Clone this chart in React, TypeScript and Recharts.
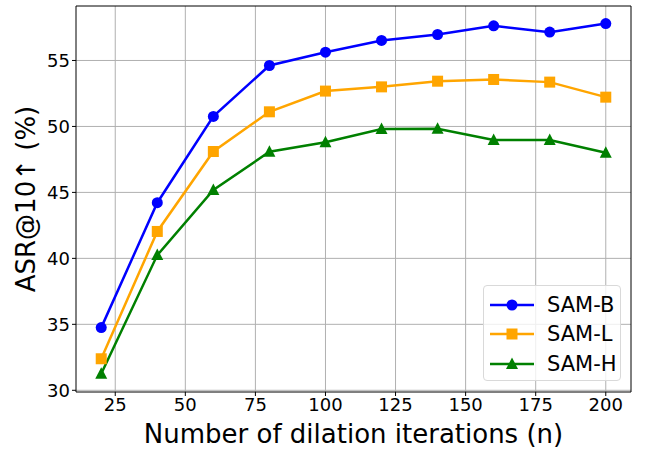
import { LineChart, Line, XAxis, YAxis, CartesianGrid, ReferenceLine, Legend, Label } from 'recharts'

const iterations = [20, 40, 60, 80, 100, 120, 140, 160, 180, 200]
const samB = [34.75, 44.22, 50.76, 54.62, 55.63, 56.52, 56.97, 57.63, 57.15, 57.8]
const samL = [32.39, 42.04, 48.1, 51.11, 52.68, 53.0, 53.43, 53.56, 53.36, 52.22]
const samH = [31.26, 40.25, 45.18, 48.08, 48.8, 49.8, 49.82, 48.97, 48.97, 48.0]

const xTicks = [25, 50, 75, 100, 125, 150, 175, 200]
const yTicks = [30, 35, 40, 45, 50, 55]

const data = iterations.map((n, i) => ({ n, b: samB[i], l: samL[i], h: samH[i] }))

const font = '"DejaVu Sans", sans-serif'

const CircleDot = (p: any) => (
	<circle key={`c-${p.index}`} cx={p.cx} cy={p.cy} r={5.5} fill='#0000ff' />
)
const SquareDot = (p: any) => (
	<rect key={`s-${p.index}`} x={p.cx - 5.5} y={p.cy - 5.5} width={11} height={11} fill='#ffa500' />
)
const TriangleDot = (p: any) => (
	<polygon
		key={`t-${p.index}`}
		points={`${p.cx},${p.cy - 6.5} ${p.cx - 6},${p.cy + 5} ${p.cx + 6},${p.cy + 5}`}
		fill='#008000'
	/>
)

const legendItems = [
	{ name: 'SAM-B', color: '#0000ff', shape: 'circle' },
	{ name: 'SAM-L', color: '#ffa500', shape: 'square' },
	{ name: 'SAM-H', color: '#008000', shape: 'triangle' },
]

function LegendBox() {
	return (
		<div
			style={{
				width: 138,
				height: 96,
				border: '1px solid #d9d9d9',
				borderRadius: 4,
				background: 'rgba(255,255,255,0.8)',
				boxSizing: 'border-box',
				paddingTop: 4,
			}}
		>
			{legendItems.map((it) => (
				<div key={it.name} style={{ display: 'flex', alignItems: 'center', height: 29.5 }}>
					<svg width={60} height={20} style={{ flex: 'none' }}>
						<line x1={6} y1={10} x2={50} y2={10} stroke={it.color} strokeWidth={2.5} />
						{it.shape === 'circle' && <circle cx={28} cy={10} r={5.5} fill={it.color} />}
						{it.shape === 'square' && <rect x={22.5} y={4.5} width={11} height={11} fill={it.color} />}
						{it.shape === 'triangle' && <polygon points='28,3.5 22,15 34,15' fill={it.color} />}
					</svg>
					<span style={{ fontFamily: font, fontSize: 21, color: '#000', marginLeft: 3 }}>{it.name}</span>
				</div>
			))}
		</div>
	)
}

export default function App() {
	return (
		<div style={{ position: 'absolute', left: 0, top: 0, background: '#fff' }}>
			<LineChart width={649} height={451} data={data} margin={{ top: 6, right: 18, left: 0, bottom: 0 }}>
				<CartesianGrid stroke='#b0b0b0' strokeWidth={1} verticalValues={xTicks} horizontalValues={yTicks} />
				<XAxis
					dataKey='n'
					type='number'
					domain={[11, 209]}
					ticks={xTicks}
					height={59}
					stroke='#000'
					tickSize={4}
					tick={{ fill: '#000', fontSize: 18, fontFamily: font }}
					tickMargin={2}
				>
					<Label
						value='Number of dilation iterations (n)'
						position='insideBottom'
						offset={8}
						style={{ fill: '#000', fontSize: 26, fontFamily: font }}
					/>
				</XAxis>
				<YAxis
					type='number'
					domain={[29.87, 59.13]}
					ticks={yTicks}
					width={76}
					stroke='#000'
					tickSize={4}
					tick={{ fill: '#000', fontSize: 18, fontFamily: font }}
					tickMargin={2}
				>
					<Label
						value='ASR@10↑ (%)'
						angle={-90}
						position='insideLeft'
						offset={26}
						style={{ fill: '#000', fontSize: 26, fontFamily: font, textAnchor: 'middle' }}
					/>
				</YAxis>
				<ReferenceLine y={59.13} stroke='#000' strokeWidth={1} />
				<ReferenceLine x={209} stroke='#000' strokeWidth={1} />
				<Line dataKey='b' name='SAM-B' stroke='#0000ff' strokeWidth={2.5} dot={CircleDot} isAnimationActive={false} />
				<Line dataKey='l' name='SAM-L' stroke='#ffa500' strokeWidth={2.5} dot={SquareDot} isAnimationActive={false} />
				<Line dataKey='h' name='SAM-H' stroke='#008000' strokeWidth={2.5} dot={TriangleDot} isAnimationActive={false} />
				<Legend
					layout='horizontal'
					verticalAlign='middle'
					align='center'
					content={() => <LegendBox />}
					wrapperStyle={{ left: 483, top: 285, width: 138, height: 96 }}
				/>
			</LineChart>
		</div>
	)
}
